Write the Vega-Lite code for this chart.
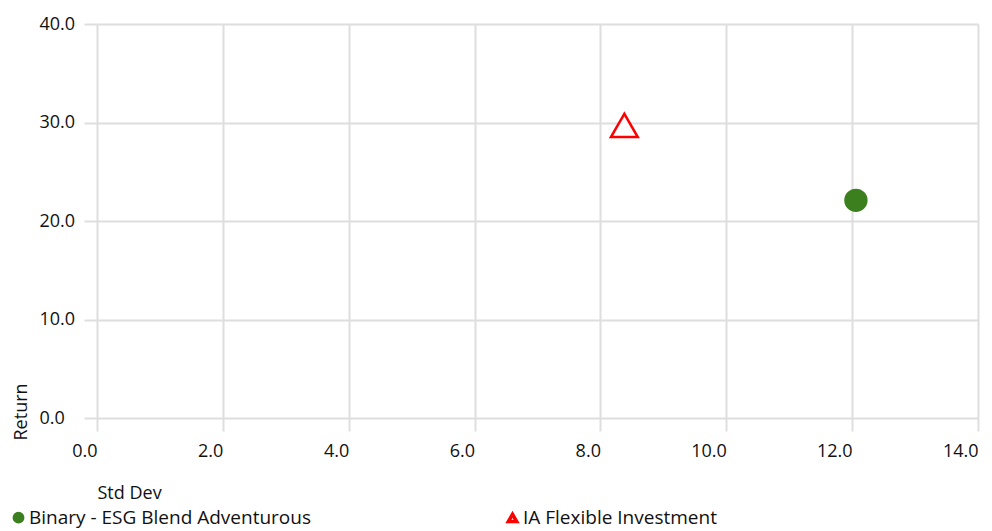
{
  "$schema": "https://vega.github.io/schema/vega-lite/v6.json",
  "autosize": "none",
  "width": 881,
  "height": 394,
  "padding": {"left": 97, "top": 24, "right": 14, "bottom": 113},
  "background": "#ffffff",
  "config": {
    "view": {"stroke": null},
    "font": "Open Sans"
  },
  "data": {
    "values": [
      {"Series": "Binary - ESG Blend Adventurous", "StdDev": 12.06, "Return": 22.1},
      {"Series": "IA Flexible Investment", "StdDev": 8.38, "Return": 29.7}
    ]
  },
  "mark": {"type": "point", "strokeWidth": 2.5, "opacity": 1},
  "encoding": {
    "x": {
      "field": "StdDev",
      "type": "quantitative",
      "title": "Std Dev",
      "scale": {"domain": [0, 14], "nice": false, "zero": false},
      "axis": {
        "values": [0, 2, 4, 6, 8, 10, 12, 14],
        "format": ".1f",
        "domain": false,
        "grid": true,
        "gridColor": "#dedede",
        "gridWidth": 2,
        "tickColor": "#dedede",
        "tickWidth": 2,
        "tickSize": 13,
        "labelAlign": "right",
        "labelBaseline": "top",
        "labelFlush": false,
        "labelPadding": 11,
        "labelFontSize": 18,
        "labelColor": "#111111",
        "titleFontSize": 18,
        "titleFontWeight": "normal",
        "titleColor": "#111111",
        "titleAnchor": "start",
        "titleAlign": "left",
        "titleBaseline": "alphabetic",
        "titleX": 0,
        "titleY": 80
      }
    },
    "y": {
      "field": "Return",
      "type": "quantitative",
      "title": "Return",
      "scale": {"domain": [0, 40], "nice": false, "zero": false},
      "axis": {
        "values": [0, 10, 20, 30, 40],
        "format": ".1f",
        "domain": false,
        "grid": true,
        "gridColor": "#dedede",
        "gridWidth": 2,
        "tickColor": "#dedede",
        "tickWidth": 2,
        "tickSize": 13,
        "labelAlign": "left",
        "labelBaseline": "middle",
        "labelFlush": false,
        "labelPadding": 45,
        "labelFontSize": 18,
        "labelColor": "#111111",
        "titleFontSize": 18,
        "titleFontWeight": "normal",
        "titleColor": "#111111",
        "titleAngle": -90,
        "titleAlign": "left",
        "titleBaseline": "alphabetic",
        "titleX": -71,
        "titleY": 416
      }
    },
    "shape": {
      "field": "Series",
      "type": "nominal",
      "scale": {"range": ["circle", "triangle-up"]},
      "legend": {
        "orient": "none",
        "legendX": -88,
        "legendY": 484,
        "direction": "horizontal",
        "title": null,
        "padding": 0,
        "symbolSize": 70,
        "symbolStrokeWidth": 3.5,
        "labelFontSize": 19,
        "labelColor": "#111111",
        "labelOffset": 1,
        "labelLimit": 400,
        "columnPadding": 189
      }
    },
    "fill": {
      "field": "Series",
      "type": "nominal",
      "scale": {"range": ["#3c7f1f", "#ffffff"]}
    },
    "stroke": {
      "field": "Series",
      "type": "nominal",
      "scale": {"range": ["#3c7f1f", "#ff0000"]}
    },
    "size": {
      "condition": {"test": "datum.Series === 'IA Flexible Investment'", "value": 720},
      "value": 434
    }
  }
}
